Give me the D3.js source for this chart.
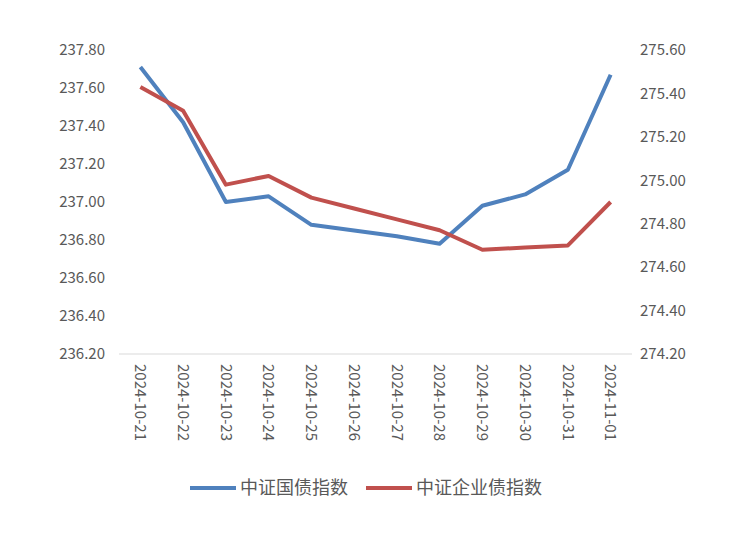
<!DOCTYPE html>
<html><head><meta charset="utf-8">
<script src="https://cdn.jsdelivr.net/npm/d3@7"></script>
<style>body{margin:0;background:#fff}</style>
</head><body><svg id="c" width="750" height="539"></svg>
<script>
const dates = ["2024-10-21","2024-10-22","2024-10-23","2024-10-24","2024-10-25","2024-10-26","2024-10-27","2024-10-28","2024-10-29","2024-10-30","2024-10-31","2024-11-01"];
const govt = [237.71,237.42,237.00,237.03,236.88,236.85,236.82,236.78,236.98,237.04,237.17,237.67];
const corp = [275.43,275.32,274.98,275.02,274.92,274.87,274.82,274.77,274.68,274.69,274.70,274.90];
const leftTicks = [236.2,236.4,236.6,236.8,237.0,237.2,237.4,237.6,237.8];
const rightTicks = [274.2,274.4,274.6,274.8,275.0,275.2,275.4,275.6];
const names = ["中证国债指数","中证企业债指数"];
const colors = ["#4f81bd","#c0504d"];

const svg = d3.select("#c");
const font = "'Noto Sans CJK SC', 'Liberation Sans', sans-serif";
const x = d3.scaleBand().domain(dates).range([119, 632]);
const yL = d3.scaleLinear().domain([236.2, 237.8]).range([354, 50]);
const yR = d3.scaleLinear().domain([274.2, 275.6]).range([354, 50]);

svg.selectAll(".tl").data(leftTicks).join("text")
  .attr("x", 105).attr("y", d => yL(d)).attr("dy", "0.35em")
  .attr("text-anchor", "end").attr("fill", "#595959")
  .style("font", `15px ${font}`).text(d => d.toFixed(2));
svg.selectAll(".tr").data(rightTicks).join("text")
  .attr("x", 640).attr("y", d => yR(d)).attr("dy", "0.35em")
  .attr("fill", "#595959")
  .style("font", `15px ${font}`).text(d => d.toFixed(2));

svg.append("line").attr("x1", 119).attr("x2", 632).attr("y1", 354).attr("y2", 354)
  .attr("stroke", "#d9d9d9");

svg.selectAll(".xl").data(dates).join("text")
  .attr("transform", d => `translate(${x(d) + x.bandwidth() / 2},364) rotate(90)`)
  .attr("dy", "0.35em").attr("fill", "#595959")
  .style("font", `15px ${font}`).text(d => d);

const line = (y) => d3.line().x((d, i) => x(dates[i]) + x.bandwidth() / 2).y(d => y(d));
svg.append("path").datum(govt).attr("d", line(yL))
  .attr("fill", "none").attr("stroke", colors[0]).attr("stroke-width", 4).attr("stroke-linejoin", "round");
svg.append("path").datum(corp).attr("d", line(yR))
  .attr("fill", "none").attr("stroke", colors[1]).attr("stroke-width", 4).attr("stroke-linejoin", "round");

const lg = svg.append("g");
[190, 366].forEach((lx, i) => {
  lg.append("line").attr("x1", lx).attr("x2", lx + 46).attr("y1", 488).attr("y2", 488)
    .attr("stroke", colors[i]).attr("stroke-width", 4);
  lg.append("text").attr("x", lx + 50).attr("y", 488).attr("dy", "0.35em")
    .attr("fill", "#595959").style("font", `18px ${font}`).text(names[i]);
});
</script></body></html>
